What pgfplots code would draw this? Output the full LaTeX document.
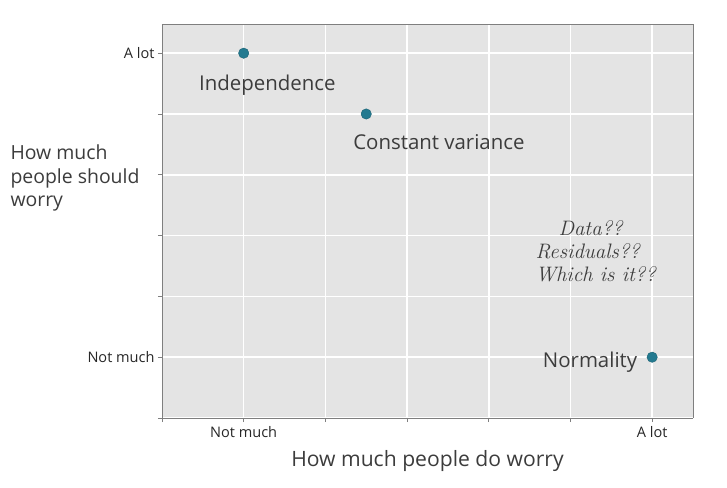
\documentclass[border=0pt]{standalone}
\usepackage{pgfplots}
\pgfplotsset{compat=1.18}
\usepackage{fontspec}
\setmainfont{Open Sans}
\newfontfamily\handfont{Latin Modern Roman}
\definecolor{panelbg}{HTML}{E4E4E4}
\definecolor{pointcol}{HTML}{237A90}
\definecolor{txtcol}{HTML}{3C3C3C}
\definecolor{framecol}{HTML}{7F7F7F}

% worry assessment: x = how much people do worry, y = how much they should
\pgfplotstableread{
x   y
1   6
2.5 5
6   1
}\worrydata

\begin{document}
\begin{tikzpicture}
\begin{axis}[
  at={(0,0)}, anchor=south west,
  scale only axis, width=531bp, height=394bp,
  xmin=0, xmax=6.5, ymin=0, ymax=6.48,
  axis background/.style={fill=panelbg},
  axis line style={framecol, line width=0.8pt},
  axis x line*=bottom, axis y line*=left,
  xtick={0,1,...,6}, ytick={0,1,...,6},
  xticklabels={,Not much,,,,,A lot},
  yticklabels={,Not much,,,,,A lot},
  tick style={framecol, line width=0.8pt},
  tick align=outside, major tick length=4bp,
  grid=major, major grid style={white, line width=1.5pt},
  ticklabel style={font=\fontsize{14.6}{17}\selectfont, text=black!85},
  xticklabel style={yshift=-1bp},
  clip=false,
]
% close the panel on the top and right sides
\draw[framecol, line width=0.8pt] (rel axis cs:0,1) -- (rel axis cs:1,1) -- (rel axis cs:1,0);
\addplot[only marks, mark=*, mark size=5.2bp, mark options={fill=pointcol, draw=pointcol!80!black, line width=0.4pt}] table[x=x, y=y] {\worrydata};
\node[text=txtcol, font=\fontsize{20.5}{23}\selectfont] at (axis cs:1.29,5.48) {Independence};
\node[text=txtcol, font=\fontsize{20.5}{23}\selectfont] at (axis cs:3.39,4.53) {Constant variance};
\node[text=txtcol, font=\fontsize{20.5}{23}\selectfont, anchor=east] at (axis cs:5.86,0.92) {Normality};
\node[text=txtcol, align=left, anchor=west, font=\handfont\itshape\fontsize{21}{23}\selectfont] at (axis cs:4.53,2.74) {\hspace*{1.1em}Data??\\Residuals??\\Which is it??};
\end{axis}
% axis titles
\node[text=txtcol, font=\fontsize{21.2}{24}\selectfont] at (265.5bp,-43bp) {How much people do worry};
\node[text=txtcol, font=\fontsize{19.5}{24}\selectfont, align=left, anchor=west] at (-155bp,240bp) {How much\\people should\\worry};
\pgfresetboundingbox
\path[use as bounding box] (-162bp,-70bp) rectangle (565bp,418bp);
\end{tikzpicture}
\end{document}
